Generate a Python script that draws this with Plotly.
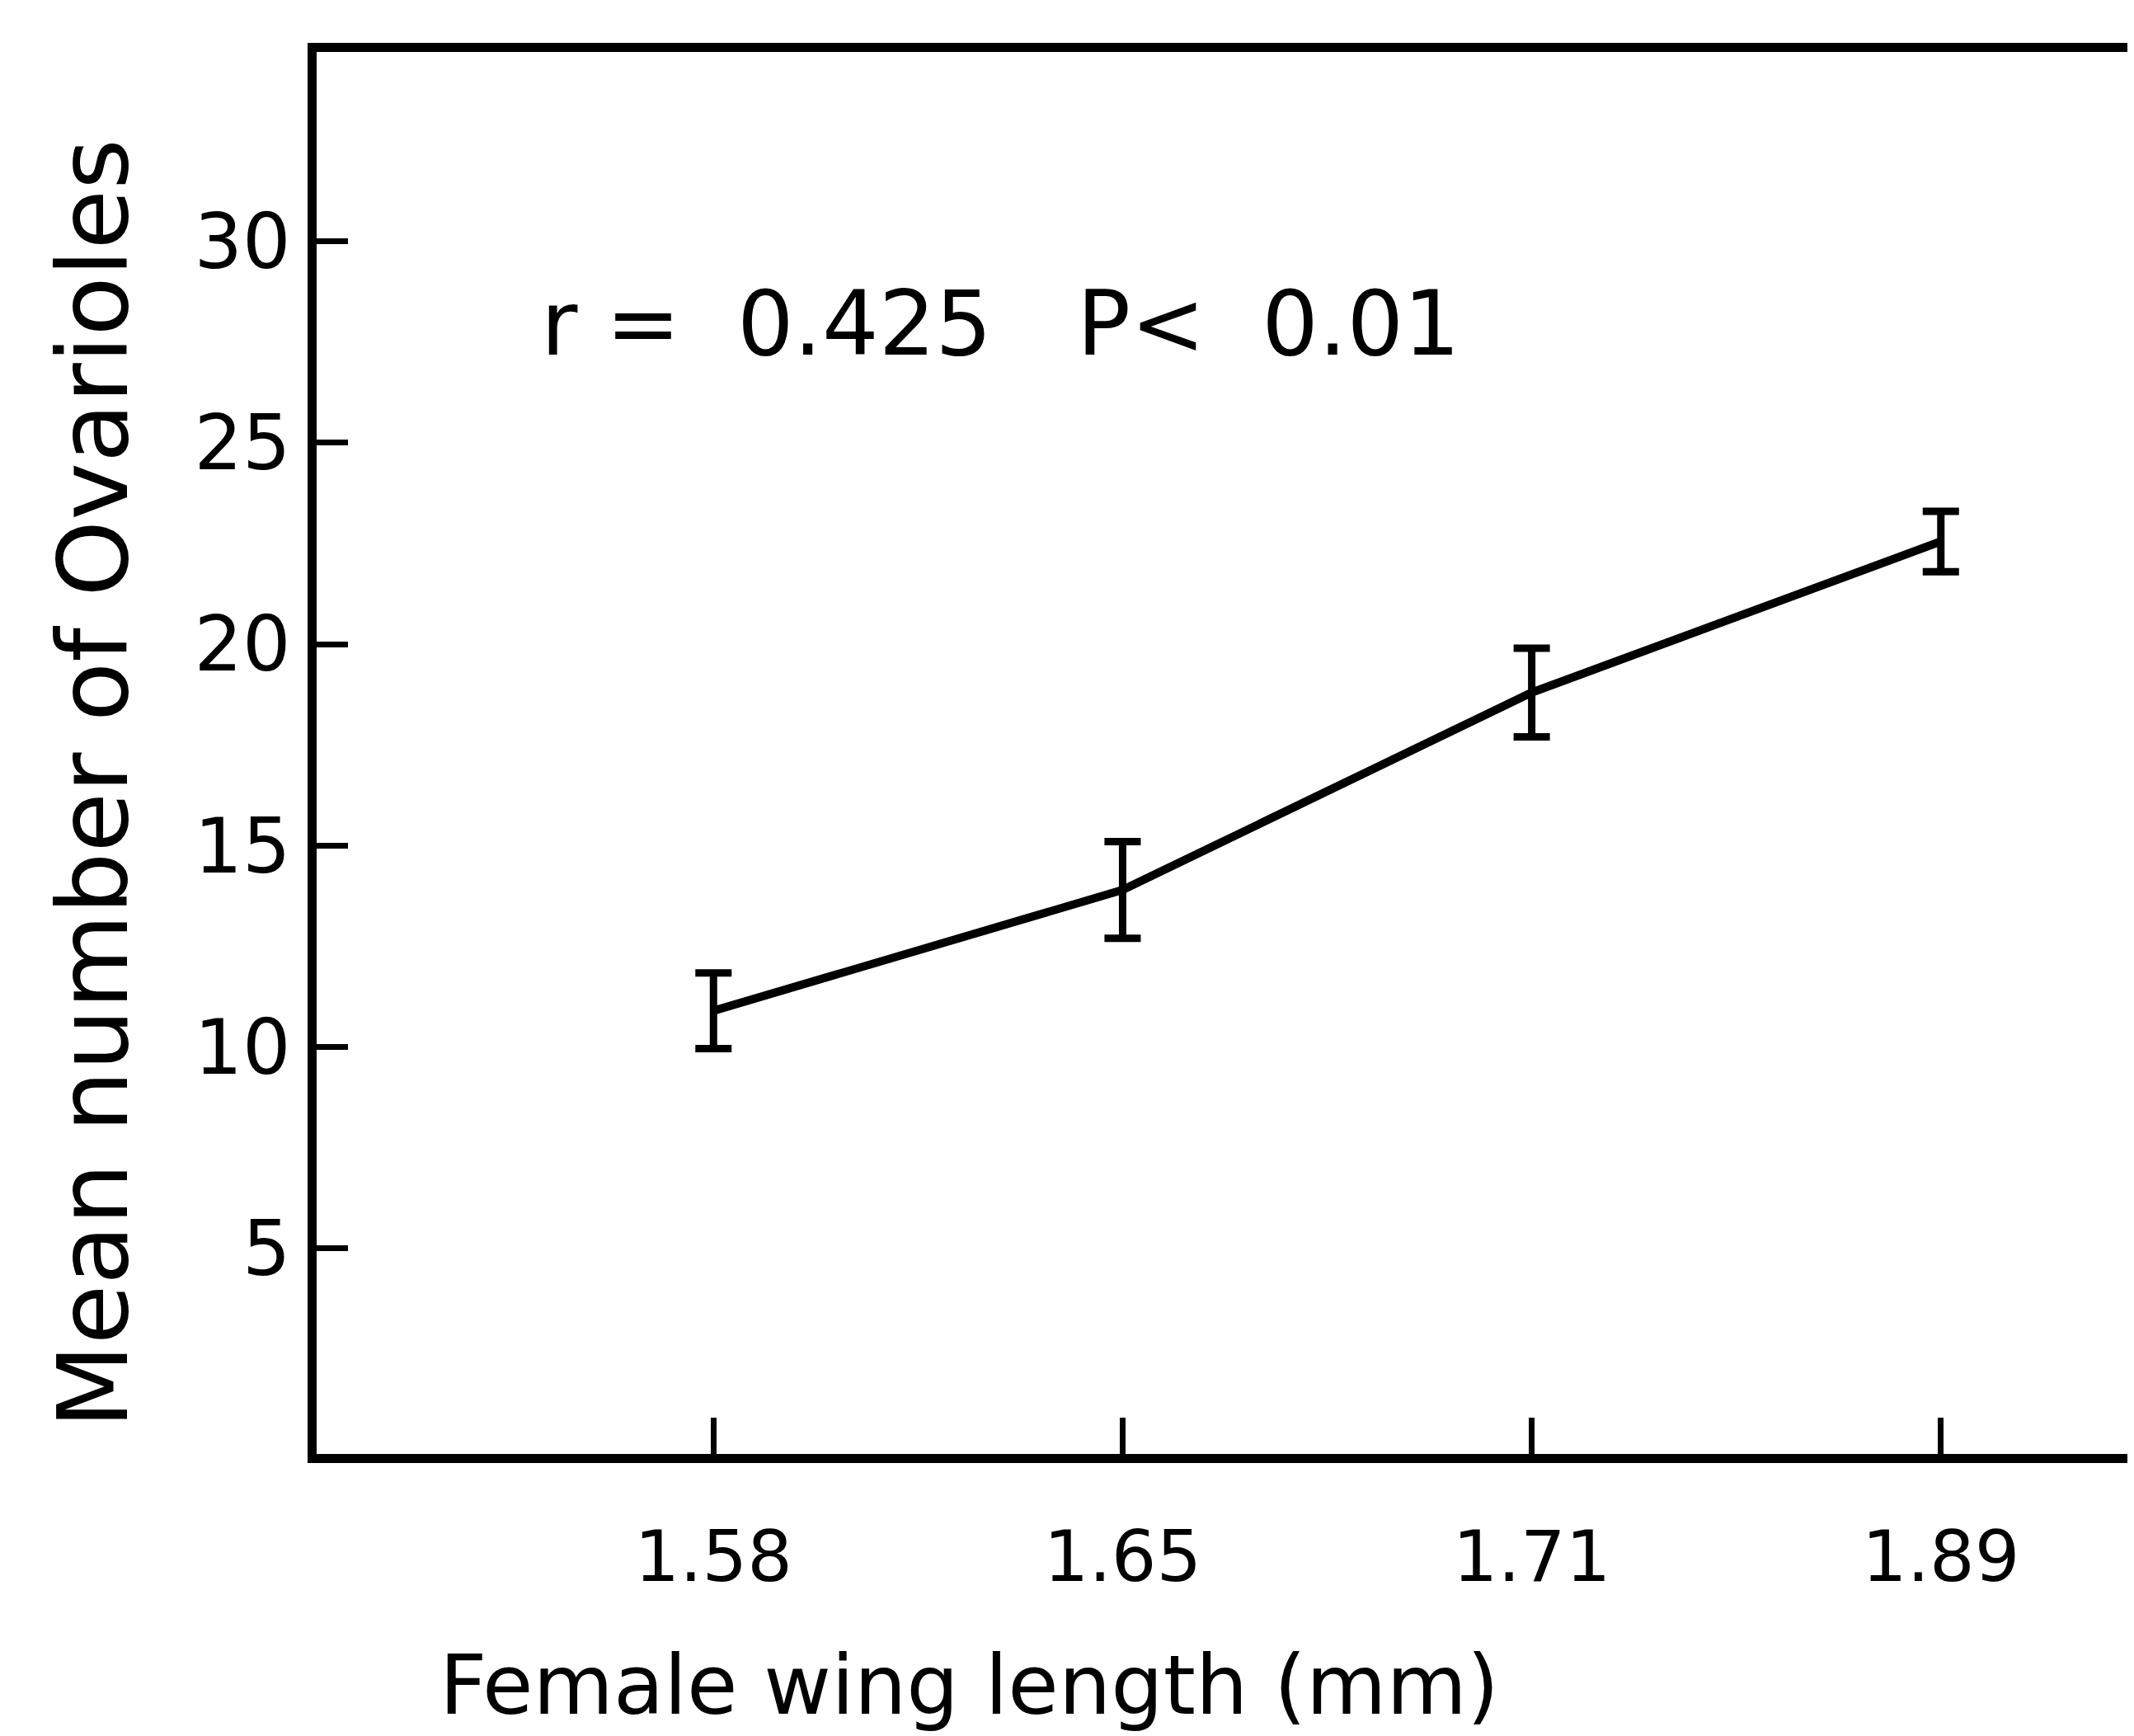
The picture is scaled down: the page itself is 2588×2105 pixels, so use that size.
import plotly.graph_objects as go

# Data
wing_length = ["1.58", "1.65", "1.71", "1.89"]
mean_ovarioles = [10.9, 13.9, 18.8, 22.55]
error = [0.94, 1.2, 1.1, 0.75]
y_ticks = [5, 10, 15, 20, 25, 30]

FONT = "DejaVu Sans"

fig = go.Figure()
fig.add_trace(go.Scatter(
    x=list(range(len(wing_length))),
    y=mean_ovarioles,
    mode="lines",
    line=dict(color="black", width=10),
    error_y=dict(type="data", array=error, visible=True,
                 color="black", thickness=9, width=22),
    showlegend=False,
))

fig.update_layout(
    width=2588, height=2105,
    margin=dict(l=376, r=3, t=55, b=350),
    paper_bgcolor="white", plot_bgcolor="white",
    font=dict(family=FONT, color="black"),
    xaxis=dict(
        range=[-0.97, 3.46],
        tickmode="array",
        tickvals=list(range(len(wing_length))),
        ticktext=wing_length,
        ticks="inside", ticklen=44, tickwidth=7, tickcolor="black",
        showline=True, linecolor="black", linewidth=11, mirror=True,
        showgrid=False, zeroline=False,
        tickfont=dict(family=FONT, size=86, color="black"),
        ticklabelstandoff=40,
    ),
    yaxis=dict(
        range=[-0.1, 34.7],
        tickmode="array",
        tickvals=y_ticks,
        ticktext=[str(v) for v in y_ticks],
        ticks="inside", ticklen=38, tickwidth=7, tickcolor="black",
        showline=True, linecolor="black", linewidth=11, mirror=True,
        showgrid=False, zeroline=False,
        tickfont=dict(family=FONT, size=92, color="black"),
        ticklabelstandoff=2,
    ),
    annotations=[
        dict(text="r =  0.425   P<  0.01", xref="paper", yref="paper",
             x=0.123, y=0.806, xanchor="left", yanchor="middle",
             showarrow=False, font=dict(family=FONT, size=108, color="black")),
        dict(text="Female wing length (mm)", xref="paper", yref="paper",
             x=0.360, y=-0.165, xanchor="center", yanchor="middle",
             showarrow=False, font=dict(family=FONT, size=100, color="black")),
        dict(text="Mean number of Ovarioles", xref="paper", yref="paper",
             x=-0.123, y=0.478, xanchor="center", yanchor="middle",
             textangle=-90,
             showarrow=False, font=dict(family=FONT, size=118, color="black")),
    ],
)

fig.write_html("out.html")
